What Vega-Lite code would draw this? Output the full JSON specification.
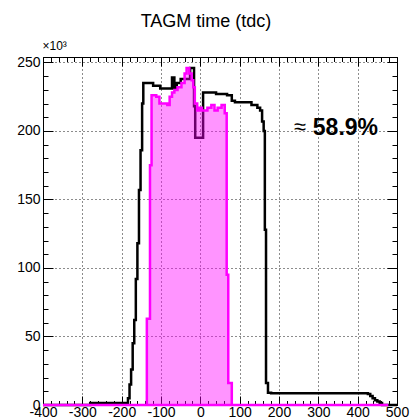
{
  "$schema": "https://vega.github.io/schema/vega-lite/v6.json",
  "width": 354,
  "height": 348,
  "autosize": {"type": "none"},
  "padding": {"left": 43, "top": 57, "right": 13, "bottom": 13},
  "background": "white",
  "title": {"text": "TAGM time (tdc)", "anchor": "middle", "offset": 8, "dx": -14, "fontSize": 18, "fontWeight": "normal", "font": "Liberation Sans", "color": "black"},
  "config": {
    "view": {"stroke": null},
    "axis": {"domainColor": "black", "domainWidth": 1, "tickColor": "black", "tickWidth": 1, "labelColor": "black", "labelFont": "Liberation Sans", "labelFontSize": 14, "gridColor": "black", "gridDash": [1, 3], "gridOpacity": 0.9, "gridWidth": 1, "labelOverlap": false, "labelBound": false, "labelFlush": false}
  },
  "datasets": {
    "black": [
      {"time": -400, "counts": 0},
      {"time": -280, "counts": 1500},
      {"time": -184, "counts": 5000},
      {"time": -180, "counts": 15000},
      {"time": -176, "counts": 26000},
      {"time": -172, "counts": 45000},
      {"time": -168, "counts": 62000},
      {"time": -164, "counts": 92000},
      {"time": -160, "counts": 118000},
      {"time": -156, "counts": 157000},
      {"time": -152, "counts": 186000},
      {"time": -148, "counts": 220000},
      {"time": -145, "counts": 235000},
      {"time": -120, "counts": 233000},
      {"time": -102, "counts": 231000},
      {"time": -72, "counts": 239000},
      {"time": -66, "counts": 231000},
      {"time": -60, "counts": 235000},
      {"time": -50, "counts": 238000},
      {"time": -26, "counts": 246000},
      {"time": -16, "counts": 218000},
      {"time": -13, "counts": 195000},
      {"time": 7, "counts": 228000},
      {"time": 40, "counts": 227000},
      {"time": 68, "counts": 226000},
      {"time": 80, "counts": 222000},
      {"time": 88, "counts": 221000},
      {"time": 130, "counts": 219000},
      {"time": 145, "counts": 217000},
      {"time": 152, "counts": 215000},
      {"time": 157, "counts": 207000},
      {"time": 161, "counts": 200000},
      {"time": 164, "counts": 128000},
      {"time": 167, "counts": 16000},
      {"time": 172, "counts": 9000},
      {"time": 180, "counts": 8500},
      {"time": 426, "counts": 8000},
      {"time": 432, "counts": 6500},
      {"time": 438, "counts": 5000},
      {"time": 444, "counts": 3500},
      {"time": 450, "counts": 2500},
      {"time": 456, "counts": 1500},
      {"time": 462, "counts": 0},
      {"time": 500, "counts": 0}
    ],
    "magenta": [
      {"time": -400, "counts": 0},
      {"time": -136, "counts": 63000},
      {"time": -128, "counts": 175000},
      {"time": -124, "counts": 226000},
      {"time": -112, "counts": 225000},
      {"time": -104, "counts": 220000},
      {"time": -84, "counts": 219000},
      {"time": -78, "counts": 225000},
      {"time": -72, "counts": 228000},
      {"time": -66, "counts": 230000},
      {"time": -58, "counts": 232000},
      {"time": -48, "counts": 235000},
      {"time": -40, "counts": 242000},
      {"time": -35, "counts": 246000},
      {"time": -28, "counts": 242000},
      {"time": -22, "counts": 237000},
      {"time": -18, "counts": 232000},
      {"time": -14, "counts": 220000},
      {"time": -8, "counts": 215000},
      {"time": -2, "counts": 217000},
      {"time": 4, "counts": 215000},
      {"time": 18, "counts": 217000},
      {"time": 28, "counts": 219000},
      {"time": 36, "counts": 215000},
      {"time": 44, "counts": 217000},
      {"time": 54, "counts": 219000},
      {"time": 62, "counts": 213000},
      {"time": 67, "counts": 95000},
      {"time": 71, "counts": 16000},
      {"time": 80, "counts": 0},
      {"time": 478, "counts": 0}
    ]
  },
  "layer": [
    {
      "data": {"name": "black"},
      "mark": {"type": "line", "interpolate": "step-after", "color": "black", "strokeWidth": 2.5},
      "encoding": {
        "x": {"field": "time", "type": "quantitative",
          "scale": {"domain": [-400, 500], "nice": false, "zero": false},
          "axis": {"orient": "bottom", "values": [-400, -300, -200, -100, 0, 100, 200, 300, 400, 500], "tickSize": -9, "labelPadding": 20, "labelBaseline": "alphabetic", "grid": true, "title": null, "labelExpr": "'' + datum.value"}},
        "y": {"field": "counts", "type": "quantitative",
          "scale": {"domain": [0, 254000], "nice": false, "zero": false},
          "axis": {"orient": "left", "values": [0, 50000, 100000, 150000, 200000, 250000], "tickSize": -10, "labelPadding": 13, "grid": true, "labelExpr": "'' + (datum.value / 1000)", "title": "×10³", "titleAngle": 0, "titleX": -1, "titleY": -8, "titleAlign": "left", "titleBaseline": "alphabetic", "titleFontSize": 12, "titleFontWeight": "normal", "titleFont": "Liberation Sans", "titleColor": "black"}}
      }
    },
    {
      "data": {"name": "magenta"},
      "mark": {"type": "area", "interpolate": "step-after", "fill": "#ff00ff", "fillOpacity": 0.42, "stroke": "#ff00ff", "strokeWidth": 2.5},
      "encoding": {
        "x": {"field": "time", "type": "quantitative",
          "scale": {"domain": [-400, 500], "nice": false, "zero": false},
          "axis": {"orient": "bottom", "values": [-400, -380, -360, -340, -320, -300, -280, -260, -240, -220, -200, -180, -160, -140, -120, -100, -80, -60, -40, -20, 0, 20, 40, 60, 80, 100, 120, 140, 160, 180, 200, 220, 240, 260, 280, 300, 320, 340, 360, 380, 400, 420, 440, 460, 480, 500], "tickSize": -4.5, "labels": false, "grid": false, "domain": false, "title": null}},
        "y": {"field": "counts", "type": "quantitative",
          "scale": {"domain": [0, 254000], "nice": false, "zero": false},
          "axis": {"orient": "left", "values": [0, 10000, 20000, 30000, 40000, 50000, 60000, 70000, 80000, 90000, 100000, 110000, 120000, 130000, 140000, 150000, 160000, 170000, 180000, 190000, 200000, 210000, 220000, 230000, 240000, 250000], "tickSize": -5, "labels": false, "grid": false, "domain": false, "title": null}}
      }
    },
    {
      "data": {"values": [{}]},
      "mark": {"type": "text", "text": "58.9%", "font": "Liberation Sans", "fontSize": 23, "fontWeight": "bold", "align": "left", "baseline": "alphabetic", "color": "black"},
      "encoding": {
        "x": {"datum": 286, "type": "quantitative",
          "scale": {"domain": [-400, 500], "nice": false, "zero": false},
          "axis": {"orient": "top", "values": [-400, -300, -200, -100, 0, 100, 200, 300, 400, 500], "tickSize": -9, "labels": false, "grid": false, "title": null}},
        "y": {"datum": 197000, "type": "quantitative",
          "scale": {"domain": [0, 254000], "nice": false, "zero": false},
          "axis": {"orient": "right", "values": [0, 50000, 100000, 150000, 200000, 250000], "tickSize": -10, "labels": false, "grid": false, "title": null}}
      }
    },
    {
      "data": {"values": [{}]},
      "mark": {"type": "text", "text": "≈", "font": "Liberation Sans", "fontSize": 22, "fontWeight": "normal", "align": "center", "baseline": "middle", "color": "black"},
      "encoding": {
        "x": {"datum": 253, "type": "quantitative",
          "scale": {"domain": [-400, 500], "nice": false, "zero": false},
          "axis": {"orient": "top", "values": [-400, -380, -360, -340, -320, -300, -280, -260, -240, -220, -200, -180, -160, -140, -120, -100, -80, -60, -40, -20, 0, 20, 40, 60, 80, 100, 120, 140, 160, 180, 200, 220, 240, 260, 280, 300, 320, 340, 360, 380, 400, 420, 440, 460, 480, 500], "tickSize": -4.5, "labels": false, "grid": false, "domain": false, "title": null}},
        "y": {"datum": 203000, "type": "quantitative",
          "scale": {"domain": [0, 254000], "nice": false, "zero": false},
          "axis": {"orient": "right", "values": [0, 10000, 20000, 30000, 40000, 50000, 60000, 70000, 80000, 90000, 100000, 110000, 120000, 130000, 140000, 150000, 160000, 170000, 180000, 190000, 200000, 210000, 220000, 230000, 240000, 250000], "tickSize": -5, "labels": false, "grid": false, "domain": false, "title": null}}
      }
    }
  ],
  "resolve": {"scale": {"x": "independent", "y": "independent"}}
}
